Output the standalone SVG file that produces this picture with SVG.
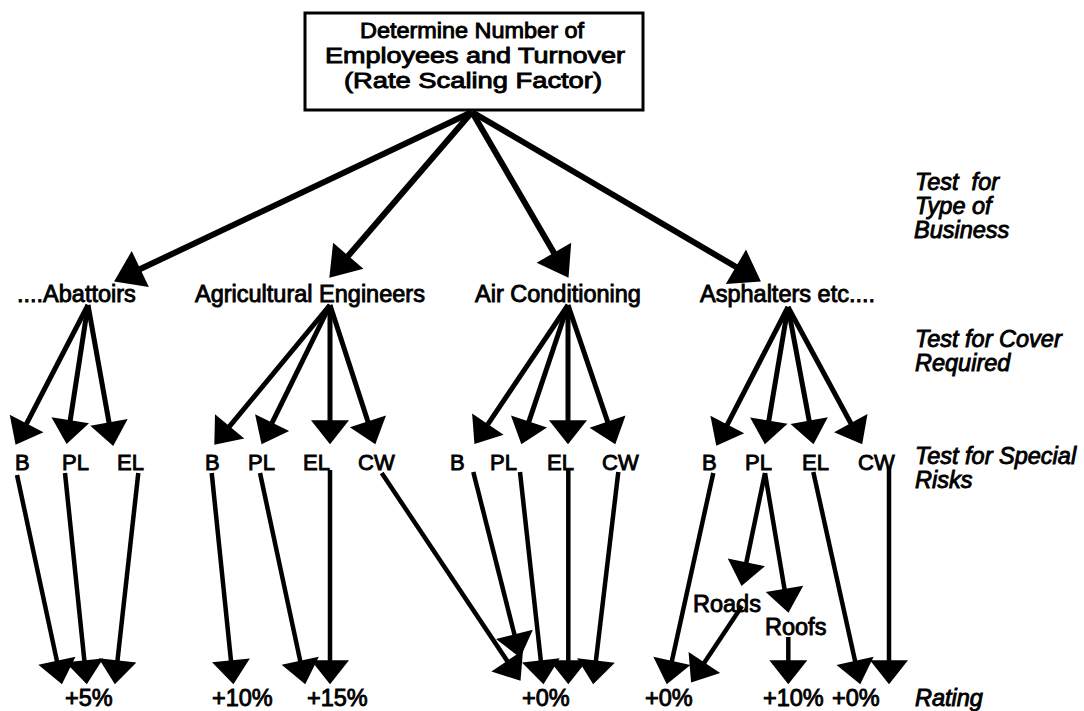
<svg xmlns="http://www.w3.org/2000/svg" width="1084" height="711" viewBox="0 0 1084 711">
<style>
  text { font-family: "Liberation Sans", Arial, sans-serif; fill: #000; stroke: #000; stroke-width: 0.9px; }
  .lbl { font-size: 23.5px; }
  .cov { font-size: 22px; }
  .box { font-size: 22px; }
  .side { font-size: 23.5px; font-style: italic; }
  .c1 { fill: none; stroke: #000; stroke-width: 6px; marker-end: url(#ahL); }
  .c2 { fill: none; stroke: #000; stroke-width: 5px; marker-end: url(#ah); }
  .c3 { fill: none; stroke: #000; stroke-width: 4.5px; marker-end: url(#ah); }
</style>
<defs>
  <marker id="ahL" markerUnits="userSpaceOnUse" viewBox="0 0 30 40" markerWidth="30" markerHeight="40" refX="24" refY="20" orient="auto" overflow="visible">
    <path d="M0,0 L29,20 L0,40 Z" fill="#000"/>
  </marker>
  <marker id="ah" markerUnits="userSpaceOnUse" viewBox="0 0 25 38" markerWidth="25" markerHeight="38" refX="20" refY="19" orient="auto" overflow="visible">
    <path d="M0,0 L24,19 L0,38 Z" fill="#000"/>
  </marker>
</defs>
<rect width="1084" height="711" fill="#fff"/>

<g id="connectors">
  <!-- from top box -->
  <line class="c1" x1="472" y1="112" x2="118.6" y2="279.3"/>
  <line class="c1" x1="472" y1="112" x2="332.6" y2="274"/>
  <line class="c1" x1="472" y1="112" x2="566" y2="273.5"/>
  <line class="c1" x1="472" y1="112" x2="756.6" y2="279"/>
  <!-- Abattoirs to cover -->
  <line class="c2" x1="88" y1="305" x2="17.4" y2="441.3"/>
  <line class="c2" x1="88" y1="305" x2="67.2" y2="440"/>
  <line class="c2" x1="88" y1="305" x2="112.5" y2="442"/>
  <!-- Agricultural Engineers to cover -->
  <line class="c2" x1="330" y1="305" x2="216.9" y2="441.7"/>
  <line class="c2" x1="330" y1="305" x2="263.3" y2="440.6"/>
  <line class="c2" x1="330" y1="305" x2="330" y2="440.3"/>
  <line class="c2" x1="330" y1="305" x2="374.1" y2="440.4"/>
  <!-- Air Conditioning to cover -->
  <line class="c2" x1="568" y1="305" x2="476.7" y2="440.8"/>
  <line class="c2" x1="568" y1="305" x2="522.6" y2="440.4"/>
  <line class="c2" x1="568" y1="305" x2="568" y2="440.3"/>
  <line class="c2" x1="568" y1="305" x2="614" y2="440.5"/>
  <!-- Asphalters to cover -->
  <line class="c2" x1="788" y1="307" x2="718.1" y2="442.3"/>
  <line class="c2" x1="788" y1="307" x2="765.5" y2="440.3"/>
  <line class="c2" x1="788" y1="307" x2="812.8" y2="440.3"/>
  <line class="c2" x1="788" y1="307" x2="860.3" y2="440.7"/>
  <!-- Abattoirs cover to rating -->
  <line class="c3" x1="17" y1="475" x2="61.1" y2="680.4"/>
  <line class="c3" x1="65" y1="473" x2="86.4" y2="680.3"/>
  <line class="c3" x1="138.3" y1="473" x2="115.3" y2="680.3"/>
  <!-- Agricultural Engineers cover to rating -->
  <line class="c3" x1="211.7" y1="473" x2="233" y2="680.3"/>
  <line class="c3" x1="260" y1="473" x2="304.4" y2="680.4"/>
  <line class="c3" x1="330" y1="470" x2="330" y2="680.3"/>
  <line class="c3" x1="381.7" y1="473" x2="518.3" y2="677.5"/>
  <!-- Air Conditioning cover to rating -->
  <line class="c3" x1="473.3" y1="472" x2="519.3" y2="653.8"/>
  <line class="c3" x1="520" y1="472" x2="543" y2="680.3"/>
  <line class="c3" x1="568.3" y1="470" x2="568.3" y2="680.3"/>
  <line class="c3" x1="618.3" y1="472" x2="593.6" y2="680.3"/>
  <!-- Asphalters cover to special risks / rating -->
  <line class="c3" x1="713.3" y1="473" x2="667.6" y2="680.4"/>
  <line class="c3" x1="765" y1="473" x2="742.3" y2="582"/>
  <line class="c3" x1="765" y1="473" x2="787.8" y2="608.7"/>
  <line class="c3" x1="742" y1="606" x2="693.3" y2="679.2"/>
  <line class="c3" x1="788.3" y1="637" x2="788.3" y2="680.3"/>
  <line class="c3" x1="813.3" y1="472" x2="859.4" y2="680.4"/>
  <line class="c3" x1="889" y1="467" x2="889" y2="680.3"/>
</g>

<g id="node-root">
  <rect x="305" y="13" width="338" height="97" fill="#fff" stroke="#000" stroke-width="3"/>
  <text class="box" x="360" y="38" textLength="224" lengthAdjust="spacingAndGlyphs">Determine Number of</text>
  <text class="box" x="325" y="63" textLength="300" lengthAdjust="spacingAndGlyphs">Employees and Turnover</text>
  <text class="box" x="344" y="88" textLength="258" lengthAdjust="spacingAndGlyphs">(Rate Scaling Factor)</text>
</g>

<g id="node-abattoirs"><text class="lbl" x="17" y="302">....Abattoirs</text></g>
<g id="node-agricultural-engineers"><text class="lbl" x="195" y="302">Agricultural Engineers</text></g>
<g id="node-air-conditioning"><text class="lbl" x="475" y="302">Air Conditioning</text></g>
<g id="node-asphalters"><text class="lbl" x="700" y="302">Asphalters etc....</text></g>

<g id="node-abattoirs-cover">
  <text class="cov" x="15" y="470">B</text>
  <text class="cov" x="62" y="470">PL</text>
  <text class="cov" x="117" y="470">EL</text>
</g>
<g id="node-agricultural-cover">
  <text class="cov" x="205" y="470">B</text>
  <text class="cov" x="248" y="470">PL</text>
  <text class="cov" x="303" y="470">EL</text>
  <text class="cov" x="358" y="470">CW</text>
</g>
<g id="node-air-cover">
  <text class="cov" x="450" y="470">B</text>
  <text class="cov" x="490" y="470">PL</text>
  <text class="cov" x="547" y="470">EL</text>
  <text class="cov" x="602" y="470">CW</text>
</g>
<g id="node-asphalters-cover">
  <text class="cov" x="702" y="470">B</text>
  <text class="cov" x="745" y="470">PL</text>
  <text class="cov" x="802" y="470">EL</text>
  <text class="cov" x="858" y="470">CW</text>
</g>

<g id="node-roads"><text class="lbl" x="693" y="612">Roads</text></g>
<g id="node-roofs"><text class="lbl" x="765" y="635">Roofs</text></g>

<g id="node-ratings">
  <text class="lbl" x="65" y="706">+5%</text>
  <text class="lbl" x="212" y="706">+10%</text>
  <text class="lbl" x="307" y="706">+15%</text>
  <text class="lbl" x="522" y="706">+0%</text>
  <text class="lbl" x="645" y="706">+0%</text>
  <text class="lbl" x="763" y="706">+10%</text>
  <text class="lbl" x="832" y="706">+0%</text>
</g>

<g id="node-stage-labels">
  <text class="side" x="915" y="190" xml:space="preserve">Test  for</text>
  <text class="side" x="915" y="214">Type of</text>
  <text class="side" x="914" y="238">Business</text>
  <text class="side" x="915" y="347">Test for Cover</text>
  <text class="side" x="915" y="371">Required</text>
  <text class="side" x="915" y="464">Test for Special</text>
  <text class="side" x="915" y="488">Risks</text>
  <text class="side" x="915" y="706">Rating</text>
</g>
</svg>
